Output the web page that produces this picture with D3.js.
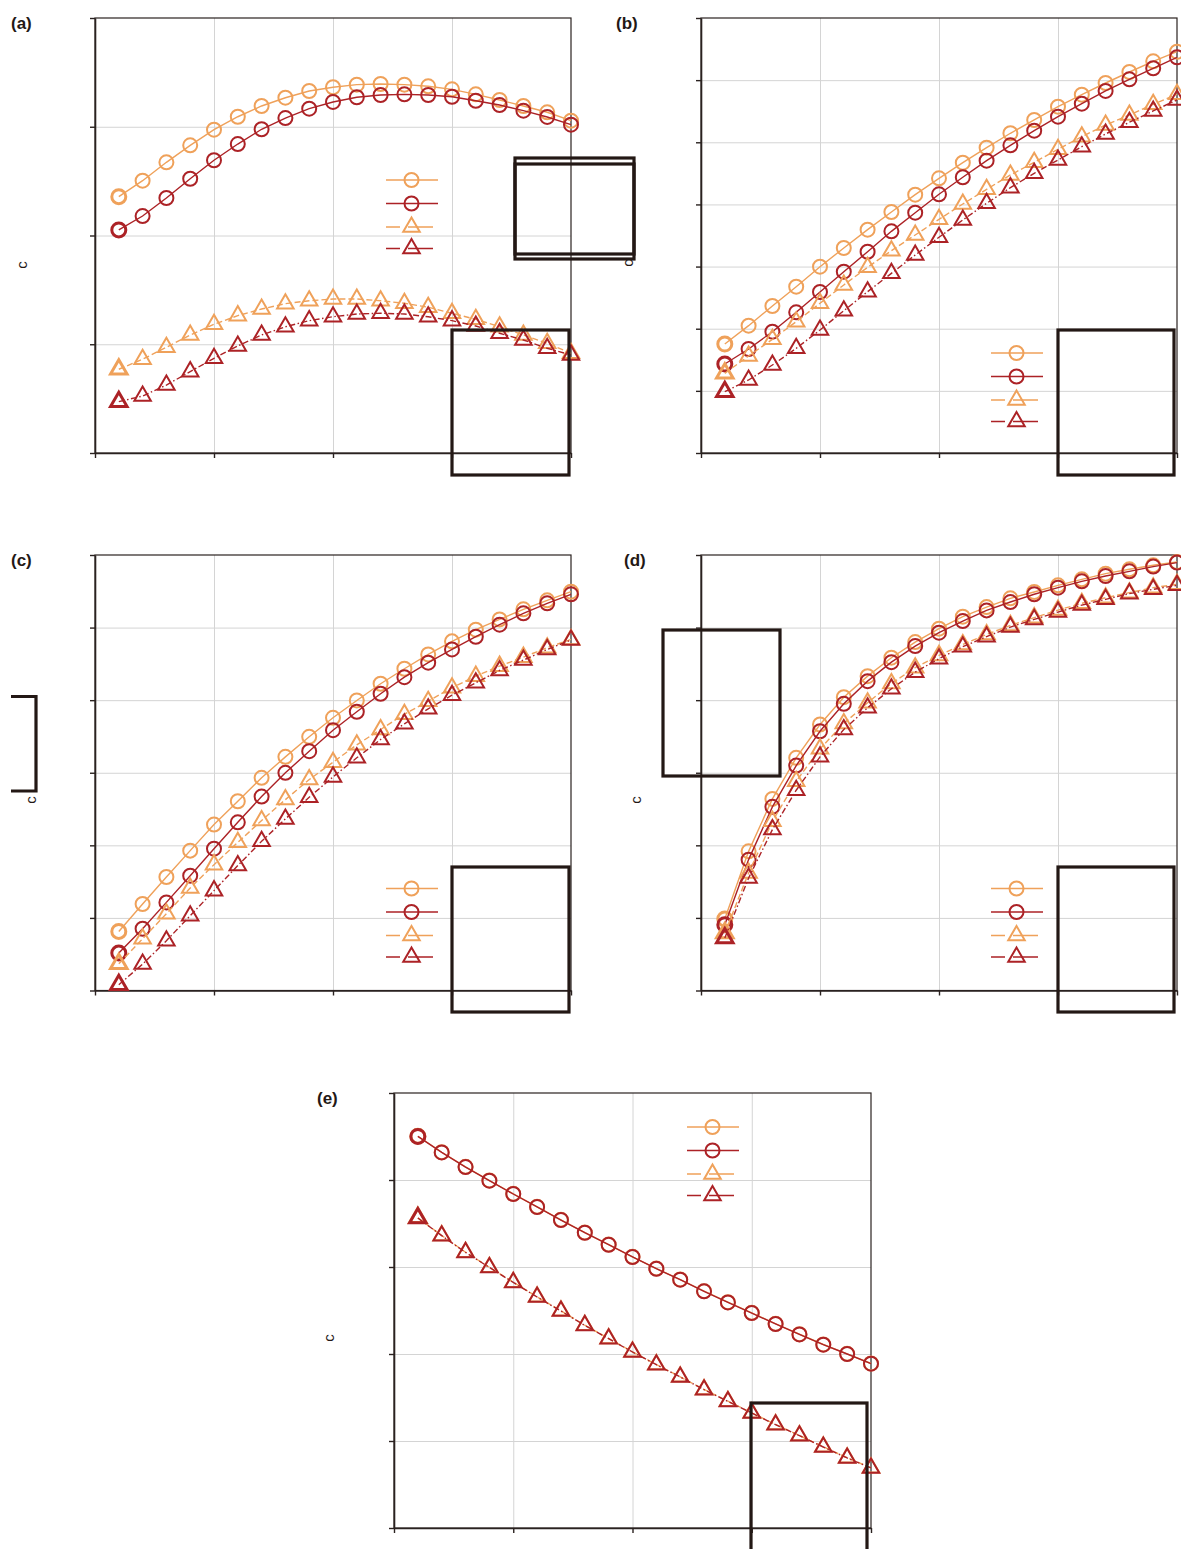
<!DOCTYPE html>
<html>
<head>
<meta charset="utf-8">
<script src="https://d3js.org/d3.v7.min.js"></script>
<style>
  html, body { margin: 0; padding: 0; background: #fff; }
  svg { display: block; }
</style>
</head>
<body>
<svg id="chart" width="1181" height="1549"></svg>
<script>
// ---------------- DATA ----------------
const xValues = [1,2,3,4,5,6,7,8,9,10,11,12,13,14,15,16,17,18,19,20];
const xTicks = [0,5,10,15,20];

const panelLabels = ["(a)", "(b)", "(c)", "(d)", "(e)"];
const yAxisTitle = "c";
const seriesNames = ["", "", "", ""];   // legend texts (not legible in the reference)

// y tick values per panel (tick labels are not shown in the reference)
const yTicksA = [0,1,2,3,4];
const yTicksB = [0,1,2,3,4,5,6,7];
const yTicksC = [0,1,2,3,4,5,6];
const yTicksD = [0,1,2,3,4,5,6];
const yTicksE = [0,1,2,3,4,5];

// Panel (a)
const pa1 = [2.357,2.504,2.673,2.829,2.973,3.092,3.191,3.267,3.329,3.363,3.387,3.393,3.387,3.372,3.344,3.298,3.246,3.191,3.133,3.056];
const pa2 = [2.051,2.179,2.345,2.522,2.692,2.841,2.977,3.080,3.166,3.228,3.271,3.292,3.298,3.292,3.276,3.239,3.200,3.148,3.090,3.019];
const pa3 = [0.770,0.862,0.972,1.085,1.183,1.263,1.324,1.373,1.400,1.416,1.416,1.400,1.377,1.340,1.285,1.229,1.161,1.085,1.009,0.917];
const pa4 = [0.472,0.524,0.625,0.748,0.871,0.984,1.085,1.161,1.217,1.253,1.278,1.285,1.278,1.253,1.217,1.168,1.101,1.039,0.963,0.901];
// Panel (b)
const pb1 = [1.754,2.049,2.366,2.676,2.998,3.299,3.594,3.878,4.157,4.420,4.672,4.913,5.145,5.359,5.573,5.766,5.954,6.131,6.303,6.458];
const pb2 = [1.432,1.674,1.952,2.264,2.591,2.918,3.239,3.567,3.867,4.163,4.437,4.704,4.951,5.187,5.412,5.622,5.826,6.013,6.191,6.368];
const pb3 = [1.282,1.561,1.829,2.113,2.409,2.704,2.988,3.256,3.508,3.760,4.007,4.243,4.474,4.678,4.887,5.090,5.278,5.439,5.611,5.772];
const pb4 = [0.987,1.175,1.416,1.684,1.979,2.290,2.596,2.891,3.186,3.471,3.750,4.018,4.270,4.501,4.715,4.929,5.134,5.322,5.504,5.681];
// Panel (c)
const pc1 = [0.814,1.192,1.564,1.927,2.286,2.607,2.930,3.219,3.495,3.757,3.996,4.226,4.433,4.630,4.810,4.971,5.113,5.251,5.375,5.495];
const pc2 = [0.516,0.851,1.214,1.582,1.954,2.317,2.672,2.999,3.297,3.586,3.840,4.088,4.317,4.516,4.699,4.874,5.040,5.196,5.334,5.458];
const pc3 = [0.368,0.713,1.058,1.412,1.734,2.041,2.341,2.630,2.906,3.145,3.385,3.596,3.807,3.986,4.171,4.331,4.469,4.593,4.723,4.837];
const pc4 = [0.079,0.364,0.686,1.030,1.376,1.721,2.055,2.364,2.662,2.943,3.206,3.458,3.674,3.881,4.069,4.240,4.410,4.552,4.699,4.828];
// Panel (d)
const pd1 = [0.985,1.917,2.640,3.206,3.665,4.041,4.331,4.585,4.800,4.985,5.150,5.283,5.403,5.490,5.582,5.665,5.743,5.803,5.858,5.903];
const pd2 = [0.906,1.803,2.530,3.099,3.572,3.950,4.262,4.524,4.745,4.930,5.090,5.237,5.352,5.459,5.550,5.637,5.710,5.775,5.840,5.895];
const pd3 = [0.792,1.619,2.331,2.883,3.330,3.679,3.964,4.230,4.447,4.617,4.768,4.906,5.030,5.137,5.241,5.334,5.412,5.481,5.550,5.596];
const pd4 = [0.723,1.550,2.217,2.759,3.219,3.596,3.895,4.157,4.386,4.571,4.737,4.875,5.007,5.113,5.214,5.310,5.389,5.468,5.527,5.582];
// Panel (e)
const pe1 = [4.503,4.319,4.151,3.994,3.841,3.692,3.542,3.396,3.258,3.117,2.982,2.856,2.722,2.595,2.473,2.347,2.227,2.109,2.002,1.891];
const pe2 = [4.501,4.317,4.149,3.992,3.839,3.690,3.540,3.394,3.256,3.115,2.980,2.854,2.720,2.593,2.471,2.345,2.225,2.107,2.000,1.889];
const pe3 = [3.565,3.362,3.170,2.997,2.825,2.657,2.496,2.331,2.178,2.025,1.879,1.738,1.592,1.457,1.324,1.189,1.063,0.933,0.807,0.692];
const pe4 = [3.563,3.360,3.168,2.995,2.823,2.655,2.494,2.329,2.176,2.023,1.877,1.736,1.590,1.455,1.322,1.187,1.061,0.931,0.805,0.690];

// ---------------- STYLE / LAYOUT ----------------
const LIGHT = "#EFA15A";
const DARK  = "#AC2226";
const AXIS  = "#2a2220";
const GRID  = "#d4d4d4";

const seriesStyle = [
  {color: LIGHT, shape: "circle",   dash: null},
  {color: DARK,  shape: "circle",   dash: null},
  {color: LIGHT, shape: "triangle", dash: "6,3"},
  {color: DARK,  shape: "triangle", dash: "6,2.5,1.5,2.5"}
];

const panels = [
  {label: panelLabels[0], data: [pa1,pa2,pa3,pa4], yTicks: yTicksA, x0: 95,  x1: 571, y0: 18,   y1: 453,
   labelPos: [11, 29], titlePos: [27, 265], legend: [386, 180]},
  {label: panelLabels[1], data: [pb1,pb2,pb3,pb4], yTicks: yTicksB, x0: 701, x1: 1177, y0: 18,  y1: 453,
   labelPos: [616, 29], titlePos: [633, 263], legend: [991, 353]},
  {label: panelLabels[2], data: [pc1,pc2,pc3,pc4], yTicks: yTicksC, x0: 95,  x1: 571, y0: 555,  y1: 990.5,
   labelPos: [11, 566], titlePos: [36, 800], legend: [386, 888.5]},
  {label: panelLabels[3], data: [pd1,pd2,pd3,pd4], yTicks: yTicksD, x0: 701, x1: 1177, y0: 555, y1: 990.5,
   labelPos: [624, 566], titlePos: [641, 800], legend: [991, 888.5]},
  {label: panelLabels[4], data: [pe1,pe2,pe3,pe4], yTicks: yTicksE, x0: 394, x1: 871, y0: 1093, y1: 1528,
   labelPos: [317, 1104], titlePos: [334, 1338], legend: [687, 1127]}
];

const svg = d3.select("#chart");

const triSym = d3.symbol().type(d3.symbolTriangle).size(118);

function drawMarker(g, shape, color, x, y, sw) {
  if (shape === "circle") {
    g.append("circle").attr("cx", x).attr("cy", y).attr("r", 7)
      .attr("fill", "none").attr("stroke", color).attr("stroke-width", sw);
  } else {
    g.append("path").attr("d", triSym()).attr("transform", `translate(${x},${y})`)
      .attr("fill", "none").attr("stroke", color).attr("stroke-width", sw)
      .attr("stroke-linejoin", "miter");
  }
}

panels.forEach(p => {
  const g = svg.append("g");
  const x = d3.scaleLinear().domain([0, 20]).range([p.x0, p.x1]);
  const yMax = p.yTicks[p.yTicks.length - 1];
  const y = d3.scaleLinear().domain([0, yMax]).range([p.y1, p.y0]);
  const w = p.x1 - p.x0, h = p.y1 - p.y0;

  // gridlines
  g.append("g").attr("transform", `translate(0,${p.y1})`)
    .call(d3.axisBottom(x).tickValues(xTicks.slice(1, -1)).tickSize(-h).tickFormat(""))
    .call(s => { s.select(".domain").remove(); s.selectAll("line").attr("stroke", GRID).attr("stroke-width", 1); });
  g.append("g").attr("transform", `translate(${p.x0},0)`)
    .call(d3.axisLeft(y).tickValues(p.yTicks.slice(1, -1)).tickSize(-w).tickFormat(""))
    .call(s => { s.select(".domain").remove(); s.selectAll("line").attr("stroke", GRID).attr("stroke-width", 1); });

  // frame
  g.append("rect").attr("x", p.x0).attr("y", p.y0).attr("width", w).attr("height", h)
    .attr("fill", "none").attr("stroke", AXIS).attr("stroke-width", 1.2);

  // axes with outward ticks, no labels
  g.append("g").attr("transform", `translate(0,${p.y1})`)
    .call(d3.axisBottom(x).tickValues(xTicks).tickSize(5).tickSizeOuter(0).tickFormat(""))
    .call(s => { s.select(".domain").attr("stroke", AXIS).attr("stroke-width", 1.6); s.selectAll("line").attr("stroke", AXIS).attr("stroke-width", 1.4); });
  g.append("g").attr("transform", `translate(${p.x0},0)`)
    .call(d3.axisLeft(y).tickValues(p.yTicks).tickSize(5).tickSizeOuter(0).tickFormat(""))
    .call(s => { s.select(".domain").attr("stroke", AXIS).attr("stroke-width", 1.6); s.selectAll("line").attr("stroke", AXIS).attr("stroke-width", 1.4); });

  // series
  p.data.forEach((vals, i) => {
    const st = seriesStyle[i];
    const pts = vals.map((v, k) => [x(xValues[k]), y(v)]);
    g.append("path").attr("d", d3.line()(pts)).attr("fill", "none")
      .attr("stroke", st.color).attr("stroke-width", 1.4)
      .attr("stroke-dasharray", st.dash);
    const mg = g.append("g");
    pts.forEach((pt, k) => drawMarker(mg, st.shape, st.color, pt[0], pt[1], k === 0 ? 3 : 2));
  });

  // legend
  const lg = g.append("g");
  const rowY = [0, 23.5, 47, 68.5];
  seriesStyle.forEach((st, i) => {
    const ly = p.legend[1] + rowY[i];
    const len = st.shape === "circle" ? 52 : 47;
    lg.append("line").attr("x1", p.legend[0]).attr("x2", p.legend[0] + len)
      .attr("y1", ly).attr("y2", ly).attr("stroke", st.color).attr("stroke-width", 1.6)
      .attr("stroke-dasharray", st.shape === "circle" ? null : "14,8,26");
    drawMarker(lg, st.shape, st.color, p.legend[0] + 25.5, ly, 2);
    lg.append("text").attr("x", p.legend[0] + 58).attr("y", ly + 4)
      .attr("font-family", "Liberation Sans, Arial, sans-serif").attr("font-size", 12)
      .text(seriesNames[i]);
  });

  // panel label
  g.append("text").attr("x", p.labelPos[0]).attr("y", p.labelPos[1])
    .attr("font-family", "Liberation Sans, Arial, sans-serif").attr("font-weight", "bold")
    .attr("font-size", 17).attr("fill", "#231815").text(p.label);

  // y axis title
  g.append("text").attr("transform", `translate(${p.titlePos[0]},${p.titlePos[1]}) rotate(-90)`)
    .attr("text-anchor", "middle")
    .attr("font-family", "Liberation Sans, Arial, sans-serif").attr("font-size", 15)
    .attr("fill", "#231815").text(yAxisTitle);
});

// black outline boxes present in the reference image
const boxG = svg.append("g").attr("fill", "none").attr("stroke", "#231815").attr("stroke-width", 3.2);
const boxes = [
  [452, 330, 117, 145], [515, 158, 119, 96], [515, 164, 119, 95],
  [1058, 330, 116, 145],
  [452, 867, 117, 145],
  [663, 630, 117, 146], [1058, 867, 116, 145],
  [751, 1403, 116, 150]
];
boxes.forEach(b => boxG.append("rect").attr("x", b[0]).attr("y", b[1]).attr("width", b[2]).attr("height", b[3]));
boxG.append("path").attr("d", "M11,696.5 H36 V791 H11");
</script>
</body>
</html>
